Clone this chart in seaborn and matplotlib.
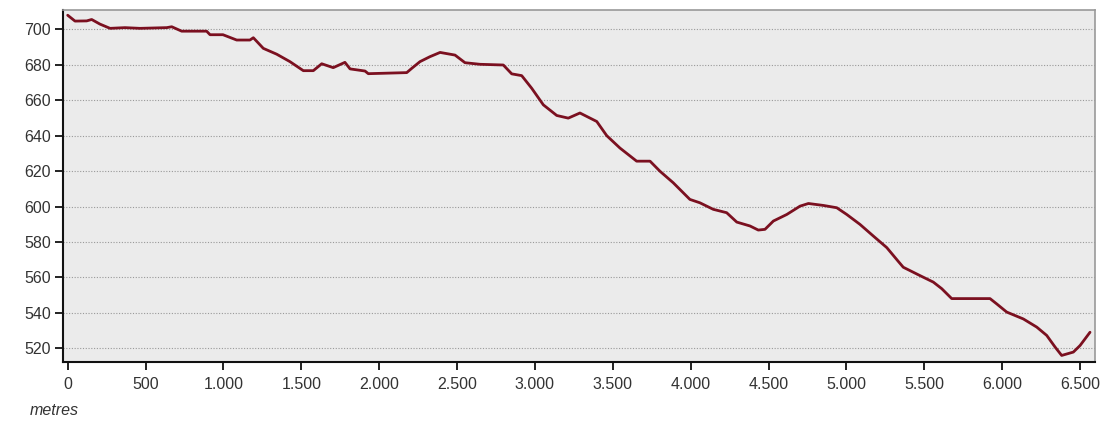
import matplotlib
matplotlib.use("Agg")
import matplotlib.pyplot as plt
import matplotlib.ticker as mticker
import seaborn as sns
import pandas as pd

# elevation profile
distance = [0, 47, 122, 154, 207, 272, 368, 464, 636, 668, 732, 892, 914, 997,
            1085, 1170, 1192, 1256, 1342, 1427, 1513, 1577, 1631, 1705, 1780,
            1813, 1909, 1930, 2177, 2209, 2262, 2326, 2391, 2487, 2551, 2647,
            2797, 2851, 2915, 2979, 3054, 3140, 3214, 3289, 3397, 3461, 3546,
            3653, 3739, 3803, 3888, 3995, 4059, 4145, 4231, 4296, 4381, 4434,
            4477, 4531, 4617, 4702, 4756, 4852, 4938, 5002, 5087, 5173, 5259,
            5333, 5365, 5472, 5558, 5612, 5676, 5922, 5965, 6029, 6136, 6222,
            6286, 6340, 6382, 6457, 6500, 6564]
elevation = [708, 704.7, 704.8, 705.6, 703, 700.6, 701, 700.6, 701, 701.5, 699,
             699, 697, 697, 694, 694, 695.3, 689.3, 686, 681.8, 676.7, 676.7,
             680.6, 678.4, 681.4, 677.7, 676.5, 675, 675.6, 678, 681.8, 684.6,
             687, 685.5, 681.2, 680.3, 679.9, 674.9, 673.9, 666.8, 657.4, 651.4,
             649.9, 652.8, 648, 640, 633, 625.6, 625.6, 619.9, 613.4, 604, 602.1,
             598.4, 596.5, 591.2, 589, 586.7, 587.1, 591.8, 595.5, 600.2, 601.7,
             600.6, 599.3, 595.5, 589.9, 583.3, 576.8, 569, 565.7, 561, 557.3,
             553.6, 548, 548, 545, 540.4, 536.5, 531.9, 527.2, 520.6, 515.9,
             517.8, 521.5, 529]
x_ticks = [0, 500, 1000, 1500, 2000, 2500, 3000, 3500, 4000, 4500, 5000, 5500, 6000, 6500]
y_ticks = [520, 540, 560, 580, 600, 620, 640, 660, 680, 700]

df = pd.DataFrame({"distance": distance, "elevation": elevation})

sns.set_style("white")
plt.rcParams["font.family"] = ["Liberation Sans", "DejaVu Sans"]

fig = plt.figure(figsize=(11.11, 4.21), dpi=100)
ax = fig.add_axes([0.057, 0.141, 0.9286, 0.835])
ax.set_facecolor("#ebebeb")

sns.lineplot(data=df, x="distance", y="elevation", ax=ax, sort=False,
             color="#7b1020", linewidth=2.0)

ax.set_xlim(-28, 6596)
ax.set_ylim(512.4, 710.9)
ax.set_xticks(x_ticks)
ax.set_yticks(y_ticks)
ax.xaxis.set_major_formatter(
    mticker.FuncFormatter(lambda v, p: f"{int(v):,}".replace(",", ".")))

ax.yaxis.grid(True, linestyle=(0, (1, 1.5)), color="#999999", linewidth=0.8)
ax.xaxis.grid(False)
ax.set_axisbelow(True)

for side in ["left", "bottom"]:
    ax.spines[side].set_color("#111111")
    ax.spines[side].set_linewidth(1.5)
for side in ["top", "right"]:
    ax.spines[side].set_color("#999999")
    ax.spines[side].set_linewidth(1.2)

ax.tick_params(axis="both", direction="out", length=6, width=1.3,
               bottom=True, left=True,
               color="#111111", labelsize=11.5, labelcolor="#333333")
ax.tick_params(axis="x", pad=5)
ax.tick_params(axis="y", pad=3)

ax.set_xlabel("")
ax.set_ylabel("")
fig.text(0.027, 0.026, "metres", style="italic", fontsize=11.5,
         color="#333333", va="center")

fig.savefig("out.png", dpi=100)
